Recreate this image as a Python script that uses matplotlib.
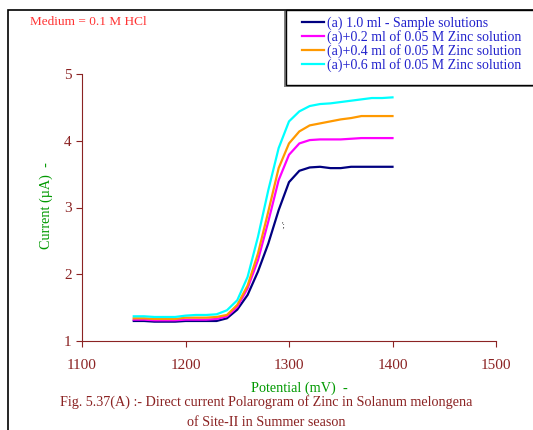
import matplotlib.pyplot as plt
from matplotlib.patches import Rectangle

potential = [1150, 1160, 1170, 1180, 1190, 1200, 1210, 1220, 1230, 1240, 1250, 1260, 1270,
             1280, 1290, 1300, 1310, 1320, 1330, 1340, 1350, 1360, 1370, 1380, 1390, 1400]

sample = [1.30, 1.30, 1.29, 1.29, 1.29, 1.30, 1.30, 1.30, 1.30, 1.34, 1.47, 1.69, 2.04,
          2.46, 2.96, 3.38, 3.55, 3.60, 3.61, 3.59, 3.59, 3.61, 3.61, 3.61, 3.61, 3.61]
zinc_02 = [1.32, 1.32, 1.31, 1.31, 1.31, 1.32, 1.32, 1.32, 1.33, 1.37, 1.51, 1.79, 2.21,
           2.79, 3.41, 3.79, 3.96, 4.01, 4.02, 4.02, 4.02, 4.03, 4.04, 4.04, 4.04, 4.04]
zinc_04 = [1.34, 1.34, 1.33, 1.33, 1.33, 1.35, 1.35, 1.35, 1.36, 1.39, 1.54, 1.83, 2.31,
           2.94, 3.59, 3.96, 4.14, 4.23, 4.26, 4.29, 4.32, 4.34, 4.37, 4.37, 4.37, 4.37]
zinc_06 = [1.37, 1.37, 1.36, 1.36, 1.36, 1.38, 1.39, 1.39, 1.40, 1.46, 1.61, 1.96, 2.56,
           3.26, 3.89, 4.29, 4.44, 4.52, 4.55, 4.56, 4.58, 4.60, 4.62, 4.64, 4.64, 4.65]

labels = ["(a) 1.0 ml - Sample solutions",
          "(a)+0.2 ml of 0.05 M Zinc solution",
          "(a)+0.4 ml of 0.05 M Zinc solution",
          "(a)+0.6 ml of 0.05 M Zinc solution"]
colors = ["#000080", "#FF00FF", "#FF9900", "#00FFFF"]

plt.rcParams['font.family'] = ['Liberation Serif', 'DejaVu Serif']
axis_red = "#8B2323"
W, H = 533, 430

fig = plt.figure(figsize=(5.33, 4.3), dpi=100)
ax = fig.add_axes([82 / W, 89 / H, 414 / W, 267 / H])
ax.patch.set_alpha(0)

for y, c, lab in zip([sample, zinc_02, zinc_04, zinc_06], colors, labels):
    ax.plot(potential, y, color=c, lw=1.6, label=lab)

ax.set_xlim(1100, 1500)
ax.set_ylim(1, 5)
ax.set_xticks([1100, 1200, 1300, 1400, 1500])
ax.set_yticks([1, 2, 3, 4, 5])
for s in ["top", "right"]:
    ax.spines[s].set_visible(False)
for s in ["left", "bottom"]:
    ax.spines[s].set_color(axis_red)
ax.tick_params(colors=axis_red, labelsize=11, length=4)
ax.tick_params(axis="x", pad=9)

ax.text(1293, 2.69, "';", fontsize=6, color="#333333")

fig.text(46 / W, 1 - 206 / H, "Current (\u00b5A)  -", rotation=90, color="#009900",
         fontsize=10.3, ha="center", va="center")
fig.text(299 / W, 1 - 388 / H, "Potential (mV)  -", color="#009900",
         fontsize=10.3, ha="center", va="center")
fig.text(0.5, 1 - 402 / H, "Fig. 5.37(A) :- Direct current Polarogram of Zinc in Solanum melongena",
         color=axis_red, fontsize=10.2, ha="center", va="center")
fig.text(0.5, 1 - 422 / H, "of Site-II in Summer season",
         color=axis_red, fontsize=10.2, ha="center", va="center")
fig.text(30 / W, 1 - 22 / H, "Medium = 0.1 M HCl", color="#FF3333",
         fontsize=9.5, ha="left", va="center")

# outer frame
fig.patches.append(Rectangle((8 / W, -0.1), 1.2, 1 - 10 / H + 0.1, zorder=-3,
                             transform=fig.transFigure, fill=False, ec="black", lw=1.2))
# legend box with shadow at lower left
fig.patches.append(Rectangle((284 / W, 1 - 87 / H), 1.0, 76 / H, zorder=-2,
                             transform=fig.transFigure, fc="#808080", ec="none"))
fig.patches.append(Rectangle((286 / W, 1 - 85 / H), 1.0, 75 / H, zorder=-1,
                             transform=fig.transFigure, fc="white", ec="black", lw=1.0))

leg = ax.legend(loc="upper left", bbox_to_anchor=(302 / W, 1 - 16.5 / H),
                bbox_transform=fig.transFigure, fontsize=10, labelspacing=0.0,
                handlelength=1.55, handletextpad=0.28, borderpad=0, borderaxespad=0,
                frameon=False)
for t in leg.get_texts():
    t.set_color("#2222CC")

fig.savefig("out.png", dpi=100)
